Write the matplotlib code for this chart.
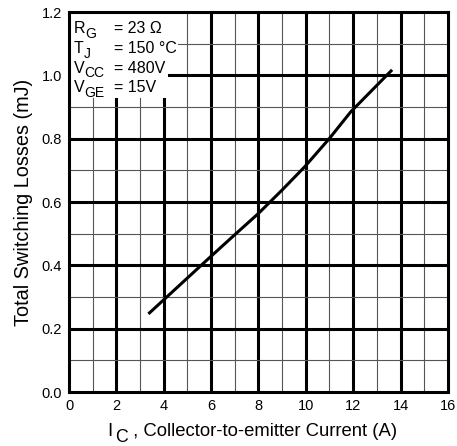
import matplotlib
matplotlib.use("Agg")
import matplotlib.pyplot as plt
from matplotlib.patches import Rectangle
import numpy as np

plt.rcParams['font.family'] = ['Liberation Sans', 'DejaVu Sans']

# total switching losses vs collector current
ic_amps = [3.4, 5.9, 6.9, 8.0, 9.0, 9.95, 11.0, 11.9, 13.6]
e_total_mj = [0.250, 0.422, 0.490, 0.564, 0.638, 0.711, 0.801, 0.885, 1.014]

x_ticks = np.arange(0, 17, 2)
y_ticks = np.arange(0, 1.21, 0.2)

# test conditions: (symbol, subscript, value)
cond_sym = ["R", "T", "V", "V"]
cond_sub = ["G", "J", "CC", "GE"]
cond_val = ["= 23 \u03a9", "= 150 \u00b0C", "= 480V", "= 15V"]

fig = plt.figure(figsize=(4.57, 4.46), dpi=100)
ax = fig.add_axes([0.151, 0.121, 0.829, 0.852])

ax.set_xlim(0, 16)
ax.set_ylim(0, 1.2)

# minor grid thin, major grid thick
for x in np.arange(1, 16, 1):
    lw, col = (2.2, 'black') if x % 2 == 0 else (0.8, '#555555')
    ax.axvline(x, color=col, lw=lw, zorder=1)
for y in np.arange(1, 12, 1):
    lw, col = (2.2, 'black') if y % 2 == 0 else (0.8, '#555555')
    ax.axhline(y / 10, color=col, lw=lw, zorder=1)

ax.plot(ic_amps, e_total_mj, color='black', lw=2.2, zorder=3)

# white box behind the conditions
ax.add_patch(Rectangle((0, 0.93), 4.2, 0.27, facecolor='white', edgecolor='none', zorder=2))
fs = 11.5
for i in range(4):
    yb = 1.134 - i * 0.0625
    t = ax.text(0.19, yb, cond_sym[i], fontsize=fs, va='baseline', ha='left', zorder=4)
    ax.annotate(cond_sub[i], xy=(1, 0), xycoords=t, xytext=(0.3, -3.5),
                textcoords='offset points', fontsize=fs - 1.5, va='bottom', ha='left', zorder=4)
    bb = dict(facecolor='white', edgecolor='none', pad=0.5) if i == 1 else None
    ax.text(1.92, yb, cond_val[i], fontsize=fs, va='baseline', ha='left', zorder=4, bbox=bb)

ax.set_xticks(x_ticks)
ax.set_yticks(y_ticks)
ax.set_yticklabels([f"{v:.1f}" for v in y_ticks])
ax.tick_params(length=0, labelsize=10.5, pad=5)

for s in ax.spines.values():
    s.set_linewidth(2.2)

# x label built by hand so the subscript stays close to full size
lfs = 13.3
t1 = fig.text(107 / 457, 1 - 436 / 446, "I", fontsize=lfs, va='baseline', ha='left')
t2 = ax.annotate("C", xy=(1, 0), xycoords=t1, xytext=(2, -4),
                 textcoords='offset points', fontsize=lfs - 0.5, va='bottom', ha='left',
                 annotation_clip=False)
ax.annotate(" , Collector-to-emitter Current (A)", xy=(1, 0), xycoords=t2, xytext=(0, 4),
            textcoords='offset points', fontsize=lfs, va='bottom', ha='left',
            annotation_clip=False)
ax.set_ylabel("Total Switching Losses (mJ)", fontsize=14.3, labelpad=6)

fig.savefig("out.png", dpi=100)
